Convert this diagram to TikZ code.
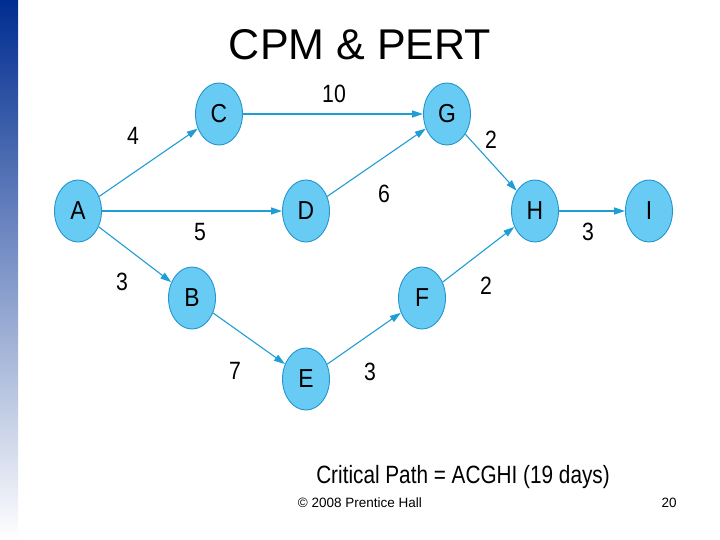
\documentclass[tikz,border=0pt]{standalone}
\usepackage{fontspec}
\setmainfont{Liberation Sans}
\usetikzlibrary{shapes.geometric,arrows.meta}

\definecolor{evfill}{RGB}{104,203,243}
\definecolor{evline}{RGB}{36,150,205}
\definecolor{arc}{RGB}{30,158,212}
\definecolor{bartop}{RGB}{0,45,145}
\definecolor{barmid}{RGB}{95,125,195}

\tikzset{
  event/.style={ellipse, draw=evline, fill=evfill, line width=0.9pt,
    minimum width=47pt, minimum height=62pt, inner sep=0pt,
    font=\fontsize{26}{26}\selectfont},
  act/.style={draw=arc, line width=1.1pt, -{Triangle[length=11pt,width=7pt]}},
  dur/.style={font=\fontsize{25}{25}\selectfont, xscale=0.85}
}

\begin{document}
\begin{tikzpicture}[x=1pt,y=-1pt]
  \useasboundingbox (0,0) rectangle (720,540);
  \fill[white] (0,0) rectangle (720,540);
  % side bar
  \shade[top color=bartop, middle color=barmid, bottom color=white] (0,0) rectangle (18,540);
  % title
  \node[font=\fontsize{43}{43}\selectfont] (title) at (360,45) {CPM \& PERT};
  % events
  \node[event] (A) at (78,211) {\scalebox{0.88}[1]{A}};
  \node[event] (C) at (219,114) {\scalebox{0.88}[1]{C}};
  \node[event] (D) at (306,211) {\scalebox{0.88}[1]{D}};
  \node[event] (G) at (447,114) {\scalebox{0.88}[1]{G}};
  \node[event] (H) at (535,211) {\scalebox{0.88}[1]{H}};
  \node[event] (I) at (649,211) {\scalebox{0.88}[1]{I}};
  \node[event] (B) at (192,298) {\scalebox{0.88}[1]{B}};
  \node[event] (F) at (422,298) {\scalebox{0.88}[1]{F}};
  \node[event] (E) at (306,379) {\scalebox{0.88}[1]{E}};
  % activities
  \foreach \u/\v in {A/C, C/G, A/D, D/G, G/H, H/I, A/B, B/E, E/F, F/H}
    \draw[act] (\u) -- (\v);
  % durations
  \foreach \x/\y/\t in {133/136/4, 334/94/10, 200/232/5, 384/194/6, 491/140/2,
                        588/232/3, 122/282/3, 235/371/7, 370/372/3, 486/286/2}
    \node[dur] at (\x,\y) {\t};
  % caption and footer
  \node[font=\fontsize{25}{25}\selectfont, xscale=0.83] (crit) at (463,477) {Critical Path = ACGHI (19 days)};
  \node[font=\fontsize{13.5}{13.5}\selectfont] (copy) at (360,503) {© 2008 Prentice Hall};
  \node[font=\fontsize{13.5}{13.5}\selectfont] (page) at (669,503) {20};
\end{tikzpicture}
\end{document}
